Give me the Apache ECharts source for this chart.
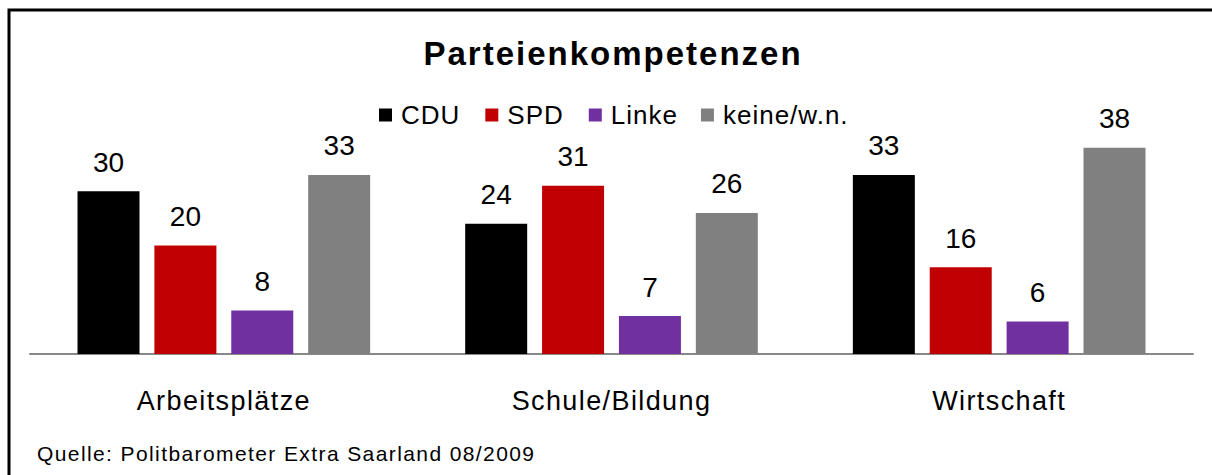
<!DOCTYPE html>
<html>
<head>
<meta charset="UTF-8">
<title>Parteienkompetenzen</title>
<script type="text/javascript" src="https://cdn.jsdelivr.net/npm/echarts@6/dist/echarts.min.js"></script>
<style>
html,body{margin:0;padding:0;background:#fff;}
/* the original's text is drawn rather wide, so space the letters a bit */
#mychart text[style*="33px"]{letter-spacing:2px;}
#mychart text[style*="27px"]{letter-spacing:1.4px;}
#mychart text[style*="26px"]{letter-spacing:1px;}
#mychart text[style*="21px"]{letter-spacing:1.4px;}
</style>
</head>
<body>
<div id="mychart" style="width:1212px;height:475px;"></div>

<script type="text/javascript">

var categories=['Arbeitsplätze','Schule/Bildung','Wirtschaft'];
var parties=['CDU','SPD','Linke','keine/w.n.'];
var colors=['#000000','#c00000','#7030a0','#808080'];
var cdu=[30,24,33];
var spd=[20,31,16];
var linke=[8,7,6];
var keine=[33,26,38];
var values=[cdu,spd,linke,keine];

var font='Arial, "Liberation Sans", sans-serif';

var mychart=echarts.init(document.getElementById('mychart'),null,{renderer:'svg'});

var series=parties.map(function(name,i){
   return {
      name:name,
      type:'bar',
      data:values[i],
      barWidth:62,
      barGap:'24%',
      itemStyle:{color:colors[i]},
      label:{
         show:true,
         position:'top',
         distance:15,
         color:'#000',
         fontSize:28,
         fontFamily:font
      }
   };
});

var option={
   animation:false,
   backgroundColor:'#fff',
   title:[{
      text:'Parteienkompetenzen',
      left:608,
      textAlign:'center',
      top:32,
      textStyle:{fontSize:33,fontWeight:'bold',color:'#000',fontFamily:font}
   },{
      text:'Quelle: Politbarometer Extra Saarland 08/2009',
      left:32,
      top:438,
      textStyle:{fontSize:21,fontWeight:'normal',color:'#000',fontFamily:font}
   }],
   legend:{
      data:parties,
      left:374,
      top:97,
      icon:'rect',
      itemWidth:13,
      itemHeight:13,
      itemGap:28,
      textStyle:{fontSize:26,color:'#000',fontFamily:font,padding:[0,0,0,4]}
   },
   grid:{left:30,right:19,top:137,bottom:121,containLabel:false},
   xAxis:{
      type:'category',
      data:categories,
      axisLine:{lineStyle:{color:'#888',width:2}},
      axisTick:{show:false},
      axisLabel:{color:'#000',fontSize:27,fontFamily:font,margin:33}
   },
   yAxis:{
      type:'value',
      min:0,
      max:40,
      show:false,
      splitLine:{show:false}
   },
   graphic:[{
      type:'polyline',
      shape:{points:[[9,475],[9,10],[1212,10]]},
      style:{stroke:'#000',lineWidth:3,fill:null},
      silent:true
   }],
   series:series
};

mychart.setOption(option);
</script>
</body>
</html>
